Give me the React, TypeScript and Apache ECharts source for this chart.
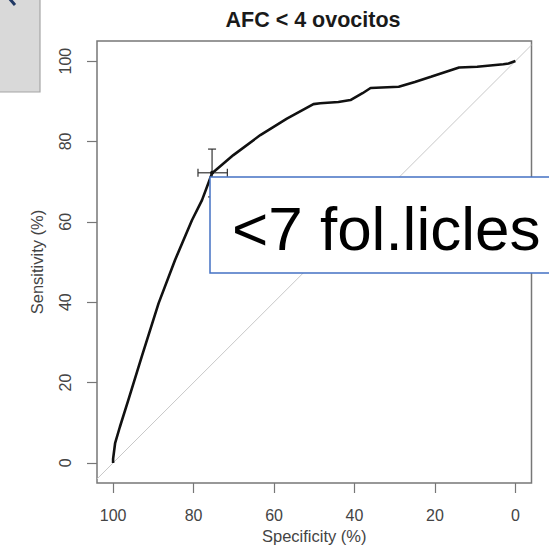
import React, { useEffect, useRef } from "react";
import * as echarts from "echarts";

const titleText = "AFC < 4 ovocitos";
const xName = "Specificity (%)";
const yName = "Sensitivity (%)";
const annotationText = "<7 fol.licles";
const tickValues = [0, 20, 40, 60, 80, 100];

// ROC curve: [specificity, sensitivity]
const rocSpecificity = [100, 100, 99.5, 98.3, 96.2, 92.9, 88.7, 84.6, 80.4, 77.9, 75.4, 70.1, 63.4, 56.8, 50.2, 48.5, 44, 41, 38, 36, 29, 25, 21, 14, 9.5, 3, 1.7, 0];
const rocSensitivity = [0, 1, 4.9, 9, 15.7, 26.4, 39.7, 50.5, 60.4, 65.4, 72.1, 76.6, 81.6, 85.7, 89.3, 89.5, 89.8, 90.3, 92, 93.3, 93.6, 94.8, 96.1, 98.4, 98.6, 99.2, 99.4, 100];

// Threshold point with confidence intervals
const cutSpec = 75.4;
const cutSens = 72.2;
const cutSpecCI = [78.9, 71.6];
const cutSensCI = [66.2, 78.1];

// Chance diagonal
const diagSpec = [104, -4];
const diagSens = [-4, 104];

export default function App() {
  const ref = useRef<HTMLDivElement>(null);
  useEffect(() => {
    if (!ref.current) return;
    const chart = echarts.init(ref.current, null, { renderer: "svg" });
    const font = "'Liberation Sans', Arial, sans-serif";
    const axisGray = "#777";
    const labelGray = "#444";
    const option: any = {
      animation: false,
      backgroundColor: "#fff",
      grid: {
        left: 97,
        right: 17.5,
        top: 41,
        bottom: 76,
        show: true,
        borderColor: axisGray,
        borderWidth: 1.5,
        backgroundColor: "transparent",
      },
      xAxis: {
        type: "value",
        inverse: true,
        min: -4,
        max: 104,
        splitLine: { show: false },
        axisLine: { show: false, onZero: false },
        axisTick: { show: true, inside: false, length: 10, lineStyle: { color: axisGray, width: 1.2 }, customValues: tickValues },
        axisLabel: { customValues: tickValues, color: labelGray, fontSize: 16, fontFamily: font, margin: 24 },
        name: xName,
        nameLocation: "middle",
        nameGap: 44,
        nameTextStyle: { color: labelGray, fontSize: 16.5, fontFamily: font },
      },
      yAxis: {
        type: "value",
        min: -5,
        max: 105,
        splitLine: { show: false },
        axisLine: { show: false, onZero: false },
        axisTick: { show: true, inside: false, length: 10, lineStyle: { color: axisGray, width: 1.2 }, customValues: tickValues },
        axisLabel: { customValues: tickValues, color: labelGray, fontSize: 16, fontFamily: font, margin: 24, rotate: 90 },
        name: yName,
        nameLocation: "middle",
        nameGap: 52,
        nameTextStyle: { color: labelGray, fontSize: 16.5, fontFamily: font },
      },
      series: [
        {
          type: "line",
          data: diagSpec.map((s, i) => [s, diagSens[i]]),
          showSymbol: false,
          lineStyle: { color: "#c8c8c8", width: 1 },
          z: 1,
        },
        {
          type: "line",
          data: rocSpecificity.map((s, i) => [s, rocSensitivity[i]]),
          showSymbol: false,
          lineStyle: { color: "#111", width: 2.6 },
          z: 3,
        },
        {
          type: "custom",
          data: [[cutSpec, cutSens, cutSpecCI[0], cutSpecCI[1], cutSensCI[0], cutSensCI[1]]],
          z: 4,
          renderItem: (params: any, api: any) => {
            const c = api.coord([api.value(0), api.value(1)]);
            const l = api.coord([api.value(2), api.value(1)]);
            const r = api.coord([api.value(3), api.value(1)]);
            const lo = api.coord([api.value(0), api.value(4)]);
            const hi = api.coord([api.value(0), api.value(5)]);
            const st = { stroke: "#333", lineWidth: 1.2 };
            const cap = 4;
            return {
              type: "group",
              children: [
                { type: "line", shape: { x1: l[0], y1: l[1], x2: r[0], y2: r[1] }, style: st },
                { type: "line", shape: { x1: l[0], y1: l[1] - cap, x2: l[0], y2: l[1] + cap }, style: st },
                { type: "line", shape: { x1: r[0], y1: r[1] - cap, x2: r[0], y2: r[1] + cap }, style: st },
                { type: "line", shape: { x1: lo[0], y1: lo[1], x2: hi[0], y2: hi[1] }, style: st },
                { type: "line", shape: { x1: lo[0] - cap, y1: lo[1], x2: lo[0] + cap, y2: lo[1] }, style: st },
                { type: "line", shape: { x1: hi[0] - cap, y1: hi[1], x2: hi[0] + cap, y2: hi[1] }, style: st },
                { type: "circle", shape: { cx: c[0], cy: c[1], r: 2 }, style: { fill: "#111" } },
              ],
            };
          },
        },
      ],
      graphic: [
        {
          type: "text",
          x: 313,
          y: 20,
          style: { text: titleText, fontSize: 21.5, fontWeight: "bold", fontFamily: font, fill: "#1a1a1a", align: "center", verticalAlign: "middle" },
        },
        {
          type: "rect",
          shape: { x: -2, y: -2, width: 42, height: 94 },
          style: { fill: "#d9d9d9", stroke: "#a6a6a6", lineWidth: 1.2 },
          z: 100,
        },
        {
          type: "line",
          shape: { x1: 9, y1: -2, x2: 15, y2: 5 },
          style: { stroke: "#1f3864", lineWidth: 3 },
          z: 101,
        },
        {
          type: "rect",
          shape: { x: 210, y: 177, width: 400, height: 96 },
          style: { fill: "#fff", stroke: "#4472C4", lineWidth: 1.5 },
          z: 100,
        },
        {
          type: "text",
          x: 232,
          y: 228,
          style: {
            text: annotationText,
            fontSize: 62,
            fontFamily: font,
            fill: "#000",
            verticalAlign: "middle",
            align: "left",
          },
          z: 101,
        },
      ],
    };
    chart.setOption(option);
    return () => chart.dispose();
  }, []);
  return <div ref={ref} style={{ width: 549, height: 559, position: "absolute", left: 0, top: 0 }} />;
}
